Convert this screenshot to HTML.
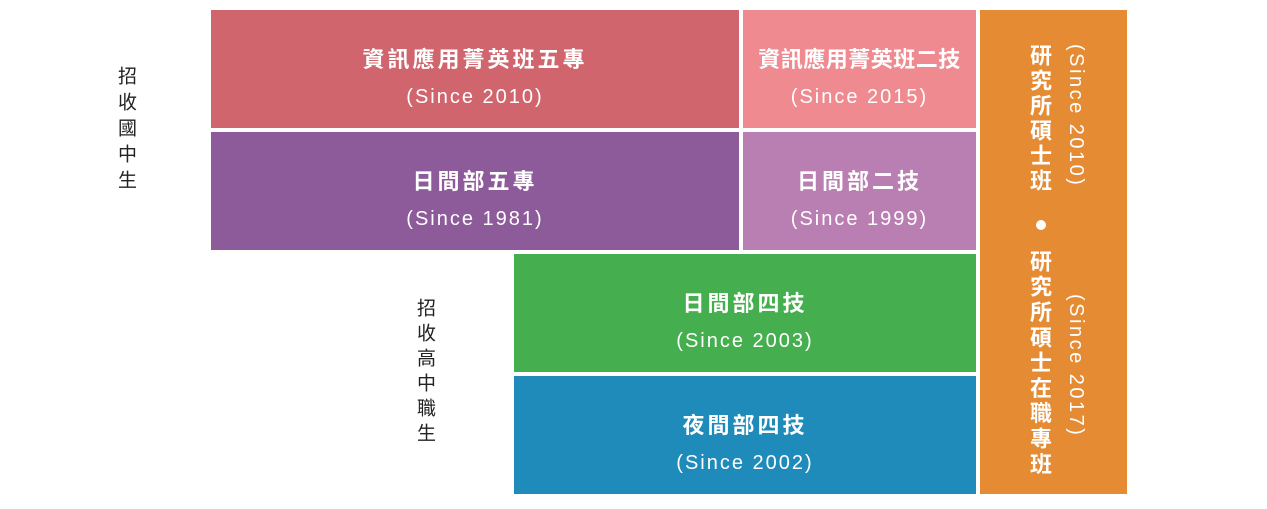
<!DOCTYPE html>
<html><head><meta charset="utf-8"><style>
body{margin:0;width:1267px;height:509px;background:#fff;position:relative;overflow:hidden;font-family:"Liberation Sans","Noto Sans CJK TC",sans-serif}
.b{position:absolute;color:#fff;text-align:center}
.t{position:absolute;left:0;right:0;font-size:22px;font-weight:bold;letter-spacing:3px;line-height:26px;top:37px}
.s{position:absolute;left:0;right:0;font-size:20px;letter-spacing:2px;line-height:24px;top:75px}
.v{position:absolute;writing-mode:vertical-rl;}
</style></head><body>
<div class="b" style="left:211px;top:10px;width:528px;height:118px;background:#d0656d"><div class="t">資訊應用菁英班五專</div><div class="s">(Since 2010)</div></div>
<div class="b" style="left:743px;top:10px;width:233px;height:118px;background:#ef8b90"><div class="t" style="letter-spacing:0.5px">資訊應用菁英班二技</div><div class="s">(Since 2015)</div></div>
<div class="b" style="left:211px;top:132px;width:528px;height:118px;background:#8e5b9a"><div class="t">日間部五專</div><div class="s">(Since 1981)</div></div>
<div class="b" style="left:743px;top:132px;width:233px;height:118px;background:#ba7fb2"><div class="t">日間部二技</div><div class="s">(Since 1999)</div></div>
<div class="b" style="left:514px;top:254px;width:462px;height:118px;background:#45ae4f"><div class="t">日間部四技</div><div class="s">(Since 2003)</div></div>
<div class="b" style="left:514px;top:376px;width:462px;height:118px;background:#1e8bba"><div class="t">夜間部四技</div><div class="s">(Since 2002)</div></div>
<div class="b" style="left:980px;top:10px;width:147px;height:484px;background:#e48b34">
<div class="v" style="left:46px;top:34px;font-size:22px;font-weight:bold;line-height:26px;letter-spacing:3px">研究所碩士班</div>
<div style="position:absolute;left:56px;top:210px;width:10px;height:10px;border-radius:50%;background:#fff"></div>
<div class="v" style="left:46px;top:240px;font-size:22px;font-weight:bold;line-height:26px;letter-spacing:3.3px">研究所碩士在職專班</div>
<div class="v" style="left:84px;top:34px;font-size:20px;line-height:24px;letter-spacing:2.5px">(Since 2010)</div>
<div class="v" style="left:84px;top:284px;font-size:20px;line-height:24px;letter-spacing:2.5px">(Since 2017)</div>
</div>
<div class="v" style="left:113px;top:66px;font-size:19px;line-height:24px;letter-spacing:7px;color:#222">招收國中生</div>
<div class="v" style="left:412px;top:298px;font-size:19px;line-height:24px;letter-spacing:6px;color:#222">招收高中職生</div>
</body></html>
